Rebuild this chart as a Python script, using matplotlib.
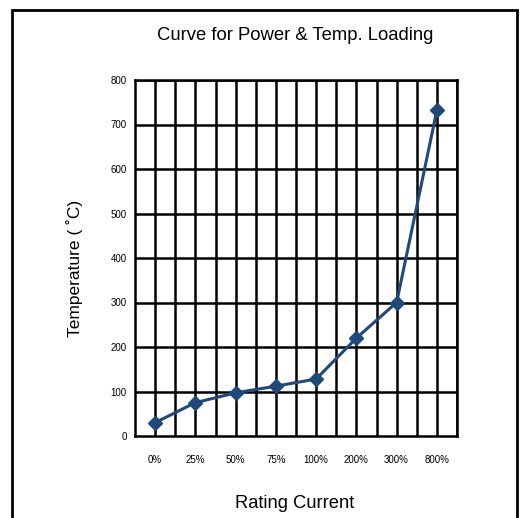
import matplotlib.pyplot as plt
from matplotlib.patches import Rectangle
import numpy as np

plt.rcParams['font.family'] = ['Liberation Sans', 'DejaVu Sans']

# Data
categories = ['0%', '25%', '50%', '75%', '100%', '200%', '300%', '800%']
temperature = [30, 75, 97, 112, 128, 220, 300, 732]

fig = plt.figure(figsize=(5.23, 5.18), dpi=100)

# outer border of the chart area
fig.patches.append(Rectangle((12 / 523, -0.05), 505 / 523, 1.05 - 10 / 518,
                             transform=fig.transFigure, fill=False,
                             edgecolor='black', linewidth=2))

ax = fig.add_axes([135 / 523, 82 / 518, 322 / 523, 356 / 518])
x = np.arange(len(categories))
ax.plot(x, temperature, '-D', color='#1F497D', linewidth=2.2, markersize=7.5)

ax.set_xlim(-0.5, len(categories) - 0.5)
ax.set_ylim(0, 800)
ax.set_xticks(x)
ax.set_xticklabels(categories, fontsize=7)
ax.set_yticks(np.arange(0, 801, 100))
ax.tick_params(axis='y', labelsize=7, length=0, pad=6)
ax.tick_params(axis='x', length=0, pad=14)

# grid lines: horizontal every 100, vertical every half category
for yv in np.arange(100, 801, 100):
    ax.axhline(yv, color='black', linewidth=1.8, zorder=1)
for xv in np.arange(0, len(categories), 0.5):
    ax.axvline(xv, color='black', linewidth=1.8, zorder=1)
for s in ax.spines.values():
    s.set_linewidth(1.8)

ax.set_ylabel('Temperature ( ˚C)', fontsize=12.5)
ax.yaxis.set_label_coords(-0.162, 0.47)
fig.text(295 / 523, 1 - 36 / 518, 'Curve for Power & Temp. Loading', fontsize=13.3,
         ha='center', va='center')
fig.text(295 / 523, 1 - 503 / 518, 'Rating Current', fontsize=13.2,
         ha='center', va='center')

fig.savefig('out.png', dpi=100)
